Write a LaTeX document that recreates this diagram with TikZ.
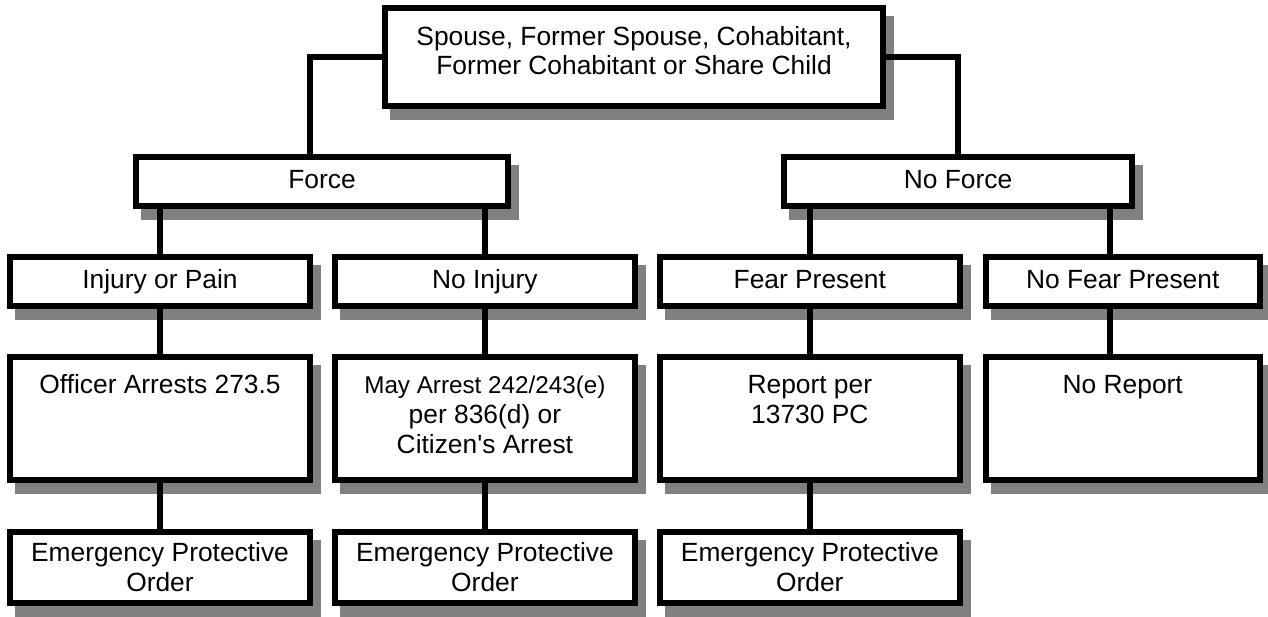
\documentclass[tikz,border=0pt]{standalone}
\usepackage{fontspec}
\setmainfont{Liberation Sans}
\usepackage{tikz}
\usetikzlibrary{positioning, shadows}

\newcommand{\boxtop}[3]{\parbox[c][#2][t]{#1}{\centering\rule{0pt}{0.74cm}#3}}

\begin{document}
\begin{tikzpicture}[x=0.02cm, y=-0.02cm]
\tikzstyle{box} = [rectangle, draw, line width=3.4pt, fill=white, minimum width=6cm, minimum height=0.98cm, inner sep=0pt, align=center, font=\fontsize{15}{17}\selectfont, drop shadow={shadow xshift=0.16cm, shadow yshift=-0.22cm, opacity=1, fill=black!50, draw=black!50, line width=3.4pt}]
\tikzstyle{choice} = [box, text height=12pt, text depth=4pt]
\tikzstyle{tall} = [box, minimum height=2.46cm]
\tikzstyle{order} = [box, minimum height=1.42cm]
\tikzstyle{link} = [line width=3.4pt]

\useasboundingbox (0,0) rectangle (1268,616);

\node (rel) [box, minimum width=9.96cm, minimum height=1.96cm] at (634,57) {\boxtop{9.96cm}{1.96cm}{Spouse, Former Spouse, Cohabitant,\\Former Cohabitant or Share Child}};
\node (force) [choice, minimum width=7.44cm] at (322,181.5) {Force};
\node (noforce) [choice, minimum width=6.96cm] at (958,181.5) {No Force};

\node (injury) [choice] at (160,281.5) {Injury or Pain};
\node (noinjury) [choice, right=0.38cm of injury] {No Injury};
\node (fear) [choice, right=0.38cm of noinjury] {Fear Present};
\node (nofear) [choice, minimum width=5.48cm, right=0.40cm of fear] {No Fear Present};

\node (arrest) [tall, below=0.9cm of injury] {\boxtop{6cm}{2.46cm}{Officer Arrests 273.5}};
\node (mayarrest) [tall, below=0.9cm of noinjury] {\boxtop{6cm}{2.46cm}{{\fontsize{13.8}{17}\selectfont May Arrest 242/243(e)}\\per 836(d) or\\Citizen\textquotesingle s Arrest}};
\node (report) [tall, below=0.9cm of fear] {\boxtop{6cm}{2.46cm}{Report per\\13730 PC}};
\node (noreport) [tall, minimum width=5.48cm, below=0.9cm of nofear] {\boxtop{5.48cm}{2.46cm}{No Report}};

\node (epo1) [order, below=0.92cm of arrest] {Emergency Protective\\Order};
\node (epo2) [order, below=0.92cm of mayarrest] {Emergency Protective\\Order};
\node (epo3) [order, below=0.92cm of report] {Emergency Protective\\Order};

\draw [link] (rel.west) -| ([xshift=-0.24cm]force.north);
\draw [link] (rel.east) -| (noforce.north);
\draw [link] (force.south -| injury.north) -- (injury.north);
\draw [link] (force.south -| noinjury.north) -- (noinjury.north);
\draw [link] (noforce.south -| fear.north) -- (fear.north);
\draw [link] ([xshift=-0.26cm]nofear.north |- noforce.south) -- ([xshift=-0.26cm]nofear.north);
\draw [link] (injury) -- (arrest);
\draw [link] (noinjury) -- (mayarrest);
\draw [link] (fear) -- (report);
\draw [link] ([xshift=-0.26cm]nofear.south) -- ([xshift=-0.26cm]noreport.north);
\draw [link] (arrest) -- (epo1);
\draw [link] (mayarrest) -- (epo2);
\draw [link] (report) -- (epo3);

\end{tikzpicture}
\end{document}
